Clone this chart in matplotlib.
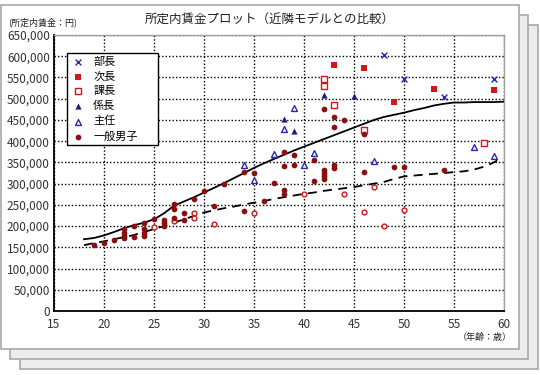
import matplotlib
matplotlib.use("Agg")
import matplotlib.pyplot as plt
from matplotlib.patches import Rectangle

plt.rcParams["font.family"] = ["Noto Sans CJK JP", "DejaVu Sans"]

# ── Data (age, monthly wage in yen) ───────────────────────────────────────────
bucho_age = [48, 50, 54, 59]
bucho_pay = [603000, 546000, 505000, 547000]

jicho_age = [43, 46, 49, 53, 59]
jicho_pay = [579000, 572000, 493000, 523000, 520000]

kacho_age = [42, 42, 43, 46, 58]
kacho_pay = [546000, 529000, 484000, 426000, 395000]

kakaricho_age = [37, 38, 39, 42, 45]
kakaricho_pay = [368000, 452000, 423000, 509000, 507000]

shunin_age = [34, 35, 37, 38, 39, 40, 41, 47, 57, 59]
shunin_pay = [344000, 308000, 370000, 428000, 477000, 344000, 371000, 354000, 387000, 365000]

ippan_age = [19, 20, 21, 22, 22, 22, 22, 23, 23, 24, 24, 24, 24, 25, 26, 26, 26,
             27, 27, 27, 28, 28, 29, 30, 31, 32, 34, 34, 35, 36, 37, 38, 38, 38, 38,
             39, 39, 41, 41, 42, 42, 42, 42, 42, 43, 43, 43, 43, 44, 46, 46, 49, 50, 54]
ippan_pay = [155000, 160000, 167000, 192000, 184000, 177000, 171000, 200000, 174000,
             207000, 194000, 183000, 177000, 217000, 215000, 208000, 200000,
             252000, 240000, 219000, 230000, 214000, 264000, 282000, 248000, 300000,
             328000, 236000, 324000, 260000, 301000, 375000, 342000, 284000, 276000,
             368000, 344000, 355000, 305000, 476000, 331000, 324000, 318000, 312000,
             458000, 434000, 345000, 337000, 449000, 417000, 328000, 339000, 339000, 331000]

# hollow red circles (not in legend)
other_age = [25, 27, 29, 29, 31, 35, 40, 44, 46, 47, 48, 50]
other_pay = [197000, 212000, 230000, 219000, 205000, 230000, 275000, 275000,
             233000, 292000, 200000, 237000]

# neighbourhood model curves
model_hi_age = [18, 19, 20, 21, 22, 23, 24, 25, 26, 27, 28, 29, 30, 31, 32, 33, 34,
                35, 36, 37, 38, 39, 40, 41, 42, 43, 44, 45, 46, 47, 48, 49, 50, 51,
                52, 53, 54, 55, 56, 57, 58, 59, 60]
model_hi_pay = [169000, 172000, 178000, 186000, 195000, 202000, 208000, 216000,
                230000, 248000, 258000, 268000, 279000, 290000, 301000, 313000,
                325000, 337000, 348000, 358000, 368000, 378000, 387000, 396000,
                405000, 414000, 423000, 432000, 441000, 450000, 457000, 462000,
                467000, 473000, 478000, 484000, 488000, 491000, 491000, 492000,
                492000, 492000, 493000]

model_lo_age = [18, 19, 20, 21, 22, 23, 24, 25, 26, 27, 28, 29, 30, 31, 32, 33, 34,
                35, 36, 37, 38, 39, 40, 41, 42, 43, 44, 45, 46, 47, 48, 49, 50, 51,
                52, 53, 54, 55, 56, 57, 58, 59, 59.6]
model_lo_pay = [155000, 160000, 164000, 169000, 174000, 179000, 186000, 193000,
                200000, 208000, 216000, 224000, 232000, 237000, 242000, 246000,
                251000, 255000, 259000, 264000, 268000, 272000, 276000, 279000,
                283000, 286000, 289000, 292000, 296000, 300000, 304000, 311000,
                317000, 319000, 321000, 323000, 325000, 327000, 329000, 333000,
                340000, 350000, 359000]

x_ticks = list(range(15, 61, 5))
y_ticks = list(range(0, 650001, 50000))

# ── Styling ───────────────────────────────────────────────────────────────────
NAVY = "#1c1c8a"
BLUE = "#2a2ab0"
RED = "#d01818"
DARKRED = "#8a1010"
TICK = "#333333"

fig = plt.figure(figsize=(5.4, 3.75), dpi=100)
fig.patch.set_facecolor("white")

# stacked "sheet" panels
W, H = 540, 375
for x0, y0, fc in [(20, 25, "#ececec"), (10, 15, "#ececec"), (1, 5, "white")]:
    fig.patches.append(Rectangle((x0 / W, (H - (y0 + 344)) / H), 518 / W, 344 / H,
                                 transform=fig.transFigure, facecolor=fc,
                                 edgecolor="#a8a8a8", linewidth=1.2, zorder=0))

ax = fig.add_axes([54 / W, (H - 311) / H, 450 / W, 276 / H])
ax.set_facecolor("white")
ax.set_zorder(2)

ax.plot(model_hi_age, model_hi_pay, color="black", linewidth=1.3, zorder=3)
ax.plot(model_lo_age, model_lo_pay, color="black", linewidth=1.3,
        linestyle=(0, (5, 3.5)), zorder=3)

ax.scatter(other_age, other_pay, s=12, marker="o", facecolors="white",
           edgecolors=RED, linewidths=1.0, zorder=4)
ax.scatter(bucho_age, bucho_pay, s=18, marker="x", color=BLUE, linewidths=1.0,
           zorder=4, label="部長")
ax.scatter(jicho_age, jicho_pay, s=17, marker="s", color=RED, linewidths=0,
           zorder=4, label="次長")
ax.scatter(kacho_age, kacho_pay, s=15, marker="s", facecolors="white",
           edgecolors=RED, linewidths=1.0, zorder=4, label="課長")
ax.scatter(kakaricho_age, kakaricho_pay, s=20, marker="^", color=NAVY,
           linewidths=0, zorder=4, label="係長")
ax.scatter(shunin_age, shunin_pay, s=18, marker="^", facecolors="white",
           edgecolors=BLUE, linewidths=1.0, zorder=4, label="主任")
ax.scatter(ippan_age, ippan_pay, s=17, marker="o", color=DARKRED, linewidths=0,
           zorder=4, label="一般男子")

ax.set_xlim(15, 60)
ax.set_ylim(0, 650000)
ax.set_xticks(x_ticks)
ax.set_yticks(y_ticks)
ax.set_yticklabels([f"{v:,}" for v in y_ticks])
ax.tick_params(axis="both", length=0, labelsize=8.5, colors=TICK)
ax.tick_params(axis="x", pad=5)
ax.tick_params(axis="y", pad=3)

ax.grid(True, color="black", linestyle=(0, (1, 1.5)), linewidth=1.0)
ax.set_axisbelow(True)

for s in ("left", "bottom"):
    ax.spines[s].set_color("black")
    ax.spines[s].set_linewidth(1.3)
for s in ("top", "right"):
    ax.spines[s].set_color("#a0a0a0")
    ax.spines[s].set_linewidth(1.0)

leg = ax.legend(loc="upper left", bbox_to_anchor=(0.028, 0.934, 0.204, 0.0),
                mode="expand", fontsize=8, frameon=True, fancybox=False,
                edgecolor="black", framealpha=1, borderpad=0.3,
                labelspacing=0.42, handletextpad=0.6, handlelength=1.5,
                borderaxespad=0, scatterpoints=1)
leg.get_frame().set_linewidth(1.0)
leg.set_zorder(6)

fig.text(270 / W, 1 - 20 / H, "所定内賃金プロット（近隣モデルとの比較）",
         ha="center", va="center", fontsize=9, color="#222222")
fig.text(8 / W, 1 - 22 / H, "(所定内賃金：円)", ha="left", va="center",
         fontsize=6.5, color="#222222")
fig.text(512 / W, 1 - 337 / H, "（年齢：歳）", ha="right", va="center",
         fontsize=6.5, color="#222222")

fig.savefig("out.png", dpi=100, facecolor="white")
